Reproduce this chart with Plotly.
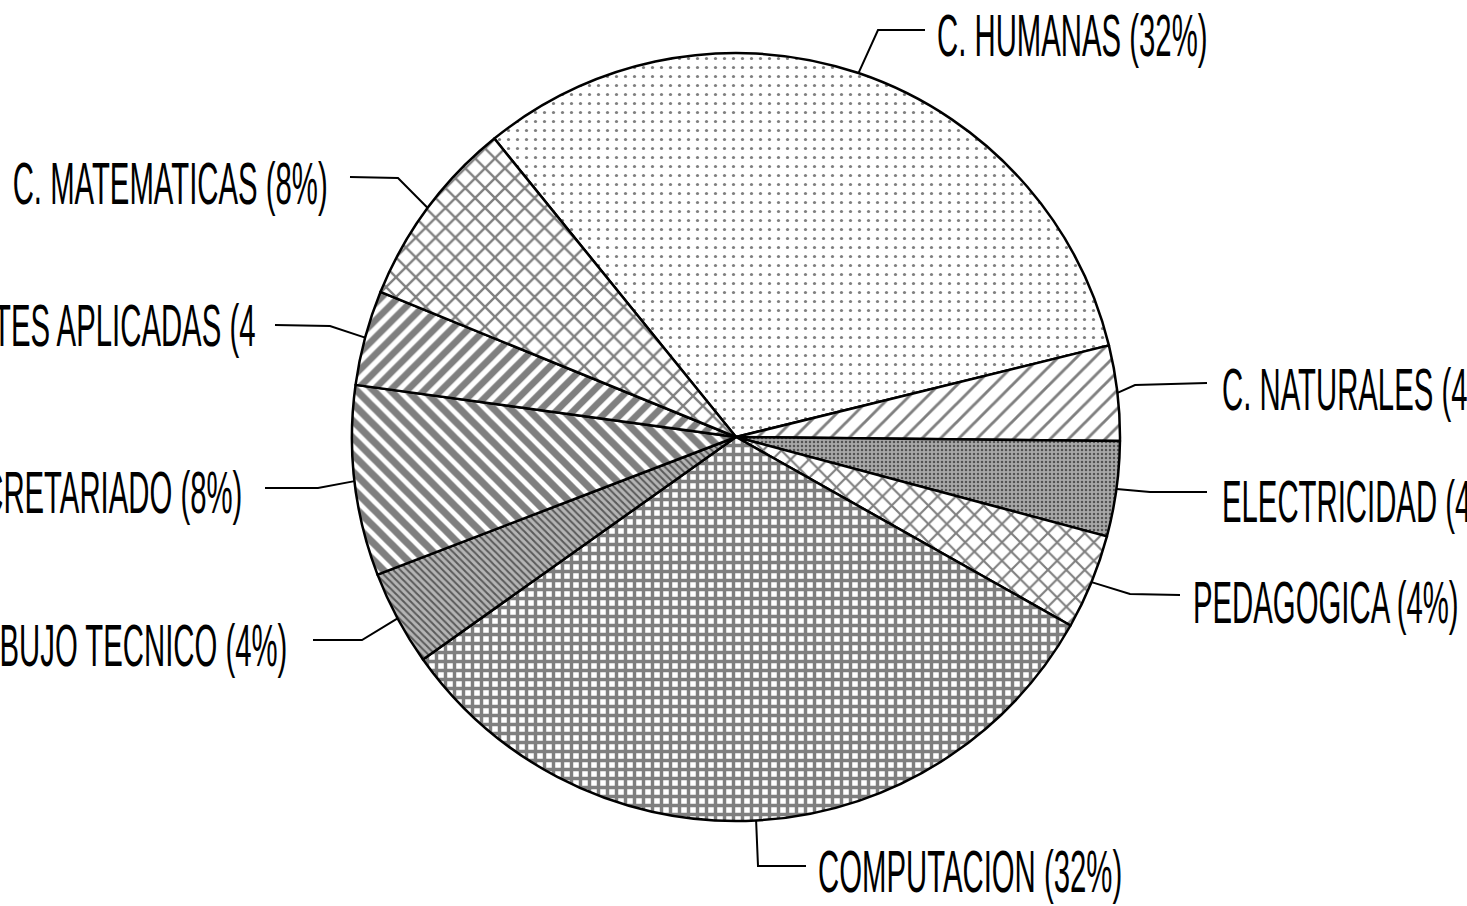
import math
import plotly.graph_objects as go

W, H = 1467, 906

# Areas and their share of the total (percent), in clockwise order
areas = ["C. HUMANAS", "C. NATURALES", "ELECTRICIDAD", "PEDAGOGICA", "COMPUTACION",
         "DIBUJO TECNICO", "SECRETARIADO", "ARTES APLICADAS", "C. MATEMATICAS"]
shares = [32, 4, 4, 4, 32, 4, 8, 4, 8]
# the plotter cut this caption short
label_clip = {"ARTES APLICADAS": 18}

# Fill patterns of the slices (background tone + black pattern)
pat_bg = ["white", "white", "#a8a8a8", "white", "white", "#b4b4b4", "white", "white", "white"]
pat_shape = [".", "/", ".", "x", "+", "\\", "\\", "/", "x"]
pat_size = [9, 13, 4, 13, 9, 5, 12, 12, 14]
pat_solid = [0.1, 0.22, 0.3, 0.3, 0.62, 0.4, 0.6, 0.55, 0.3]

# Pie geometry (pixels)
CX, CY, R = 736, 437, 384
START_ANGLE = -39

# Caption placement: anchor side, x, y and the leader-line bends
captions = {
    "C. HUMANAS":      ("left", 935, 35, [(878, 30), (925, 30)]),
    "C. NATURALES":    ("left", 1220, 389, [(1135, 385), (1207, 383)]),
    "ELECTRICIDAD":    ("left", 1220, 501, [(1150, 492), (1207, 492)]),
    "PEDAGOGICA":      ("left", 1191, 602, [(1130, 594), (1180, 595)]),
    "COMPUTACION":     ("left", 816, 871, [(758, 866), (806, 866)]),
    "DIBUJO TECNICO":  ("right", 289, 645, [(362, 640), (313, 640)]),
    "SECRETARIADO":    ("right", 244, 492, [(318, 488), (265, 488)]),
    "ARTES APLICADAS": ("right", 257, 325, [(330, 326), (275, 325)]),
    "C. MATEMATICAS":  ("right", 330, 183, [(398, 178), (350, 177)]),
}

fig = go.Figure()

fig.add_trace(go.Pie(
    labels=areas,
    values=shares,
    sort=False,
    direction="clockwise",
    rotation=START_ANGLE,
    textinfo="none",
    hoverinfo="label+percent",
    showlegend=False,
    domain=dict(x=[(CX - R) / W, (CX + R) / W], y=[1 - (CY + R) / H, 1 - (CY - R) / H]),
    marker=dict(
        colors=pat_bg,
        line=dict(color="black", width=2.5),
        pattern=dict(shape=pat_shape, size=pat_size, solidity=pat_solid,
                     fgcolor="black", fillmode="overlay"),
    ),
))

total = sum(shares)
cum = 0
annotations = []
for name, v in zip(areas, shares):
    mid = math.radians(START_ANGLE + 360 * (cum + v / 2) / total)
    cum += v
    sx, sy = CX + R * math.sin(mid), CY - R * math.cos(mid)
    side, tx, ty, bends = captions[name]
    xs = [sx] + [b[0] for b in bends]
    ys = [sy] + [b[1] for b in bends]
    fig.add_trace(go.Scatter(x=xs, y=ys, mode="lines", line=dict(color="black", width=2),
                             hoverinfo="skip", showlegend=False))
    text = f"{name} ({v}%)"
    if name in label_clip:
        text = text[:label_clip[name]]
    annotations.append(dict(
        x=tx, y=ty, xref="x", yref="y", text=text, showarrow=False,
        xanchor=side, yanchor="middle", align=side,
        font=dict(family="Liberation Sans Narrow, Arial Narrow, Liberation Sans", size=36, color="black"),
    ))

fig.update_layout(
    width=W, height=H,
    margin=dict(l=0, r=0, t=0, b=0),
    paper_bgcolor="white", plot_bgcolor="white",
    xaxis=dict(range=[0, W], visible=False, domain=[0, 1], fixedrange=True),
    yaxis=dict(range=[H, 0], visible=False, domain=[0, 1], fixedrange=True),
    annotations=annotations,
)

# tall, condensed lettering of the captions, squeezed towards their anchored side
css = (".annotation-text{transform-box:fill-box;transform-origin:50% 50%;"
       "transform:scale(0.815,1.65);}"
       ".annotation-text[text-anchor='start']{transform-origin:0% 50%;}"
       ".annotation-text[text-anchor='end']{transform-origin:100% 50%;}")
post = ("var s=document.createElement('style');s.textContent=" + repr(css) +
        ";document.head.appendChild(s);")
fig.write_html("out.html", post_script=post)
